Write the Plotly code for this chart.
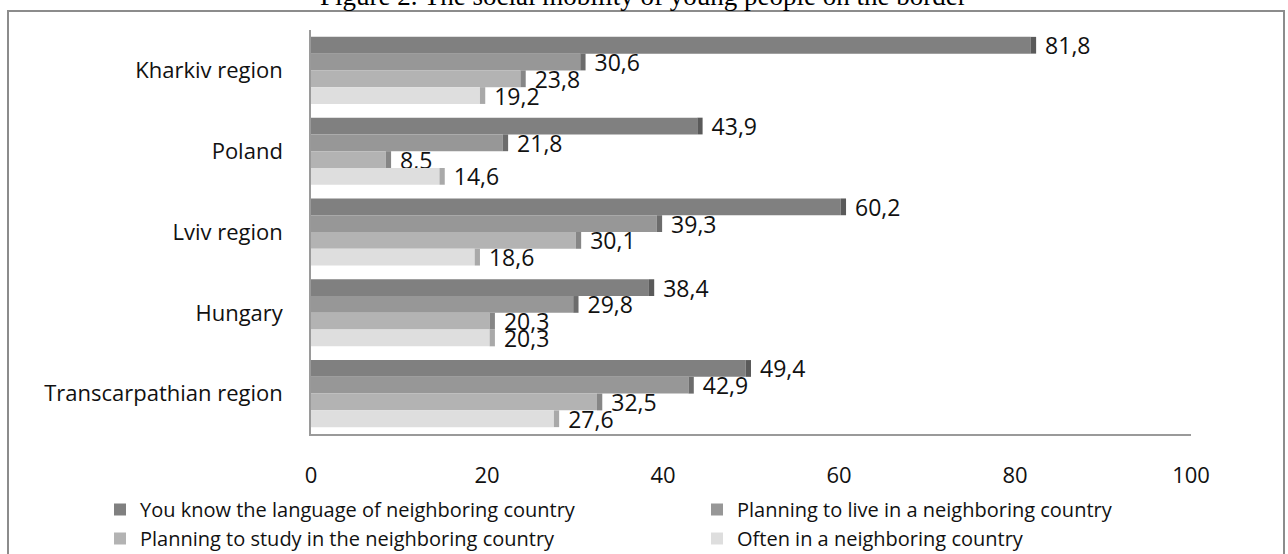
import plotly.graph_objects as go

categories = ["Kharkiv region", "Poland", "Lviv region", "Hungary", "Transcarpathian region"]
series_names = [
    "You know the language of neighboring country",
    "Planning to live in a neighboring country",
    "Planning to study in the neighboring country",
    "Often in a neighboring country",
]
language = [81.8, 43.9, 60.2, 38.4, 49.4]
live = [30.6, 21.8, 39.3, 29.8, 42.9]
study = [23.8, 8.5, 30.1, 20.3, 32.5]
often = [19.2, 14.6, 18.6, 20.3, 27.6]
x_ticks = [0, 20, 40, 60, 80, 100]

series_values = [language, live, study, often]
bar_colors = ["#808080", "#979797", "#b3b3b3", "#dedede"]
cap_colors = ["#5a5a5a", "#6c6c6c", "#868686", "#a9a9a9"]
CAP = 0.6  # visual depth of the bar end, in axis units

FONT = "Open Sans"

fig = go.Figure()
for i, (name, vals) in enumerate(zip(series_names, series_values)):
    fig.add_trace(go.Bar(
        y=categories, x=vals, name=name, orientation="h",
        marker=dict(color=bar_colors[i], line=dict(width=0)),
        offsetgroup=str(i), showlegend=True, hoverinfo="x+name",
    ))
    fig.add_trace(go.Bar(
        y=categories, x=[CAP] * len(vals), base=vals, orientation="h",
        marker=dict(color=cap_colors[i], line=dict(width=0)),
        offsetgroup=str(i), showlegend=False, hoverinfo="skip",
        text=[" " + f"{v:.1f}".replace(".", ",") for v in vals],
        textposition="outside", constraintext="none", cliponaxis=False,
        textangle=0,
        textfont=dict(family=FONT, size=23, color="#111111"),
    ))

L, R, T, B = 311, 97, 30, 120
W, H = 1288, 554
pw = W - L - R
ph = H - T - B


def px_x(x):
    return (x - L) / pw


def px_y(y):
    return (T + ph - y) / ph


fig.update_layout(
    width=W, height=H,
    barmode="group", bargap=0.17, bargroupgap=0,
    separators=", ",
    paper_bgcolor="white", plot_bgcolor="white",
    margin=dict(l=L, r=R, t=T, b=B, autoexpand=False),
    font=dict(family=FONT, size=22, color="#111111"),
    xaxis=dict(
        range=[0, 100], tickvals=x_ticks, showgrid=False, zeroline=False,
        showline=True, linecolor="#9a9a9a", linewidth=2,
        ticks="outside", ticklen=21, tickcolor="rgba(0,0,0,0)",
        tickfont=dict(family=FONT, size=22, color="#111111"),
    ),
    yaxis=dict(
        type="category", autorange="reversed", showgrid=False, zeroline=False,
        showline=True, linecolor="#9a9a9a", linewidth=1.5,
        ticks="outside", ticklen=22, tickcolor="rgba(0,0,0,0)",
        tickfont=dict(family=FONT, size=22, color="#111111"),
    ),
    legend=dict(
        orientation="h", x=px_x(100), xanchor="left",
        y=px_y(490), yanchor="top",
        entrywidth=552, entrywidthmode="pixels",
        font=dict(family=FONT, size=20, color="#111111"),
        itemwidth=30, bgcolor="rgba(0,0,0,0)", traceorder="normal",
    ),
    annotations=[dict(
        text="Figure 2. The social mobility of young people on the border",
        font=dict(family="Liberation Serif", size=27, color="#000000"),
        xref="paper", yref="paper", x=px_x(643), xanchor="center",
        y=px_y(-4), yanchor="middle", showarrow=False,
    )],
    shapes=[dict(
        type="rect", xref="paper", yref="paper",
        x0=px_x(8), x1=px_x(1284),
        y0=px_y(600), y1=px_y(11),
        line=dict(color="#8c8c8c", width=2), fillcolor="rgba(0,0,0,0)",
        layer="below",
    )],
)

fig.write_html("out.html")
